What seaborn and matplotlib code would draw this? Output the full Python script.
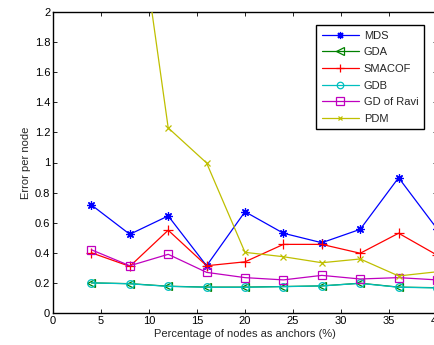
import matplotlib
matplotlib.use("Agg")
import matplotlib.pyplot as plt
import seaborn as sns
import pandas as pd

x_vals = [4, 8, 12, 16, 20, 24, 28, 32, 36, 40]
mds = [0.718, 0.523, 0.645, 0.314, 0.673, 0.53, 0.467, 0.556, 0.899, 0.56]
gda = [0.200, 0.195, 0.178, 0.172, 0.172, 0.176, 0.180, 0.198, 0.172, 0.168]
smacof = [0.40, 0.31, 0.55, 0.314, 0.34, 0.456, 0.456, 0.397, 0.53, 0.385]
gdb = [0.200, 0.194, 0.177, 0.171, 0.171, 0.175, 0.180, 0.197, 0.171, 0.167]
gd_ravi = [0.42, 0.314, 0.39, 0.27, 0.235, 0.22, 0.25, 0.226, 0.235, 0.22]
pdm = [5.0, 3.05, 1.23, 0.997, 0.403, 0.374, 0.334, 0.359, 0.246, 0.274]

x_ticks = [0, 5, 10, 15, 20, 25, 30, 35, 40]
y_ticks = [0, 0.2, 0.4, 0.6, 0.8, 1, 1.2, 1.4, 1.6, 1.8, 2]
y_ticklabels = ["0", "0.2", "0.4", "0.6", "0.8", "1", "1.2", "1.4", "1.6", "1.8", "2"]

sns.set_style("ticks")
plt.rcParams['font.family'] = ['Liberation Sans', 'DejaVu Sans']

fig = plt.figure(figsize=(4.34, 3.45), dpi=100)
W, H = 434, 345
ax = fig.add_axes([53 / W, (H - 313) / H, (437 - 53) / W, (313 - 12) / H])

series = [
    ("MDS", mds, "#0000ff", (8, 2, 0), 6, "full", 3),
    ("GDA", gda, "#008000", "<", 6, "none", 3),
    ("SMACOF", smacof, "#ff0000", "+", 7, "full", 3),
    ("GDB", gdb, "#00bfbf", "o", 5.5, "none", 3),
    ("GD of Ravi", gd_ravi, "#bf00bf", "s", 6, "none", 3),
    ("PDM", pdm, "#bfbf00", "x", 4, "full", 3),
]

for name, vals, color, marker, ms, fill, z in series:
    df = pd.DataFrame({"x": x_vals, "y": vals})
    kw = dict(color=color, marker=marker, markersize=ms, linewidth=0.9,
              markeredgewidth=0.9, label=name, ax=ax, zorder=z)
    if fill == "none":
        kw["markerfacecolor"] = "none"
        kw["markeredgecolor"] = color
    else:
        kw["markeredgecolor"] = color
    sns.lineplot(data=df, x="x", y="y", **kw)

ax.set_xlim(0, 40)
ax.set_ylim(0, 2)
ax.set_xticks(x_ticks)
ax.set_yticks(y_ticks)
ax.set_yticklabels(y_ticklabels)
ax.tick_params(direction="in", length=3, width=0.6, labelsize=8, top=True, right=True, colors="black", pad=2)
for s in ax.spines.values():
    s.set_linewidth(1.0)
    s.set_color("black")
ax.set_xlabel("Percentage of nodes as anchors (%)", fontsize=8, labelpad=2)
ax.set_ylabel("Error per node", fontsize=8, labelpad=3)

leg = ax.legend(loc="upper left", bbox_to_anchor=((316 - 53) / 384, (313 - 25) / 301),
                fontsize=8, frameon=True, fancybox=False, edgecolor="black",
                borderpad=0.5, labelspacing=0.6, handlelength=3.4, handletextpad=0.4,
                borderaxespad=0, markerscale=0.85)
leg.get_frame().set_linewidth(1.0)
leg.get_frame().set_alpha(1)

fig.savefig("out.png", dpi=100)
